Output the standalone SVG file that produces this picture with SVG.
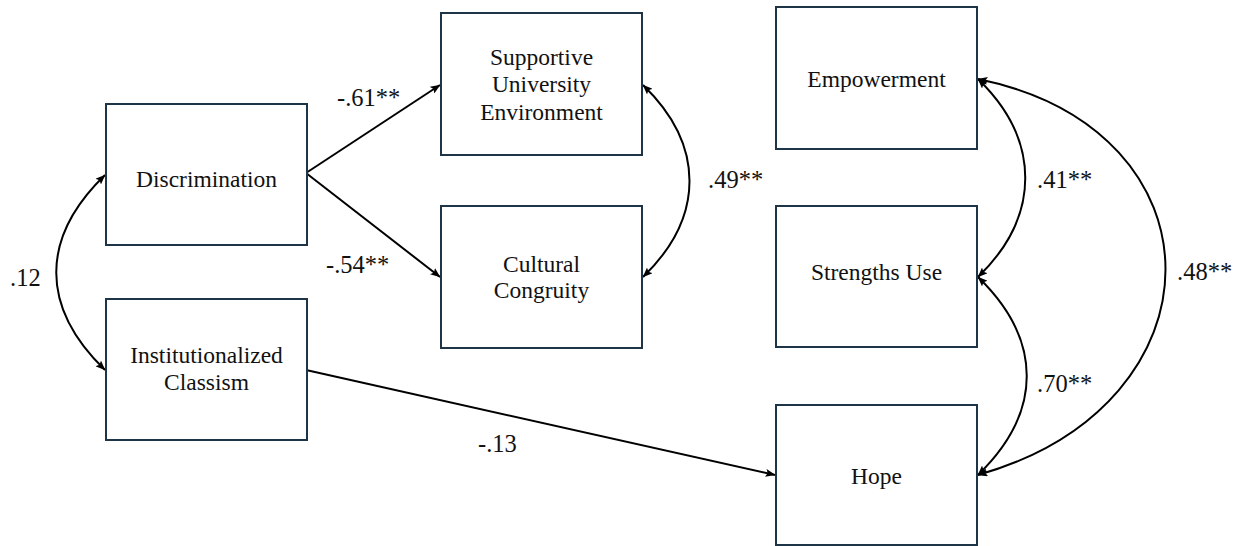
<svg xmlns="http://www.w3.org/2000/svg" width="1247" height="546" viewBox="0 0 1247 546" font-family="Liberation Serif, Times New Roman, serif">
<defs>
<style>
.box{fill:#ffffff;stroke:#1e3547;stroke-width:2}
.t{font-size:23.5px;fill:#111;text-anchor:middle}
.lbl{font-size:24.5px;fill:#111}
.c{fill:none;stroke:#000;stroke-width:2}
</style>
<marker id="ah" viewBox="0 0 10 8" refX="9.5" refY="4" markerWidth="10" markerHeight="8" markerUnits="userSpaceOnUse" orient="auto-start-reverse">
<path d="M0,0 L10,4 L0,8 L2,4 z" fill="#000"/>
</marker>
</defs>
<rect width="1247" height="546" fill="#ffffff"/>
<g id="connectors">
<path class="c" d="M306,173 L440,85" marker-end="url(#ah)"/>
<path class="c" d="M306,173 L440,277" marker-end="url(#ah)"/>
<path class="c" d="M306,370 L775,475" marker-end="url(#ah)"/>
<path class="c" d="M105,175 C40,238 40,307 105,370" marker-start="url(#ah)" marker-end="url(#ah)"/>
<path class="c" d="M643,85 C705,145 705,217 643,277" marker-start="url(#ah)" marker-end="url(#ah)"/>
<path class="c" d="M978,79 C1041,140 1041,216 978,277" marker-start="url(#ah)" marker-end="url(#ah)"/>
<path class="c" d="M978,277 C1043,340 1043,412 978,475" marker-start="url(#ah)" marker-end="url(#ah)"/>
<path class="c" d="M978,79 C1228,130 1228,404 978,475" marker-start="url(#ah)" marker-end="url(#ah)"/>
<text class="lbl" x="337" y="106">-.61**</text>
<text class="lbl" x="326" y="273">-.54**</text>
<text class="lbl" x="708" y="188">.49**</text>
<text class="lbl" x="10" y="286">.12</text>
<text class="lbl" x="478" y="452">-.13</text>
<text class="lbl" x="1037" y="188">.41**</text>
<text class="lbl" x="1037" y="392">.70**</text>
<text class="lbl" x="1177" y="280">.48**</text>
</g>
<g id="discrimination">
<rect class="box" x="106" y="104" width="201" height="141"/>
<text class="t" x="206.5" y="187">Discrimination</text>
</g>
<g id="classism">
<rect class="box" x="106" y="299" width="201" height="141"/>
<text class="t" x="206.5" y="363">Institutionalized</text>
<text class="t" x="206.5" y="390">Classism</text>
</g>
<g id="supportive">
<rect class="box" x="441" y="13" width="201" height="142"/>
<text class="t" x="541.5" y="65">Supportive</text>
<text class="t" x="541.5" y="92">University</text>
<text class="t" x="541.5" y="120">Environment</text>
</g>
<g id="cultural">
<rect class="box" x="441" y="206" width="201" height="142"/>
<text class="t" x="541.5" y="272">Cultural</text>
<text class="t" x="541.5" y="298">Congruity</text>
</g>
<g id="empowerment">
<rect class="box" x="776" y="7" width="201" height="142"/>
<text class="t" x="876.5" y="87">Empowerment</text>
</g>
<g id="strengths">
<rect class="box" x="776" y="206" width="201" height="141"/>
<text class="t" x="876.5" y="280">Strengths Use</text>
</g>
<g id="hope">
<rect class="box" x="776" y="405" width="201" height="140"/>
<text class="t" x="876.5" y="484">Hope</text>
</g>
</svg>
